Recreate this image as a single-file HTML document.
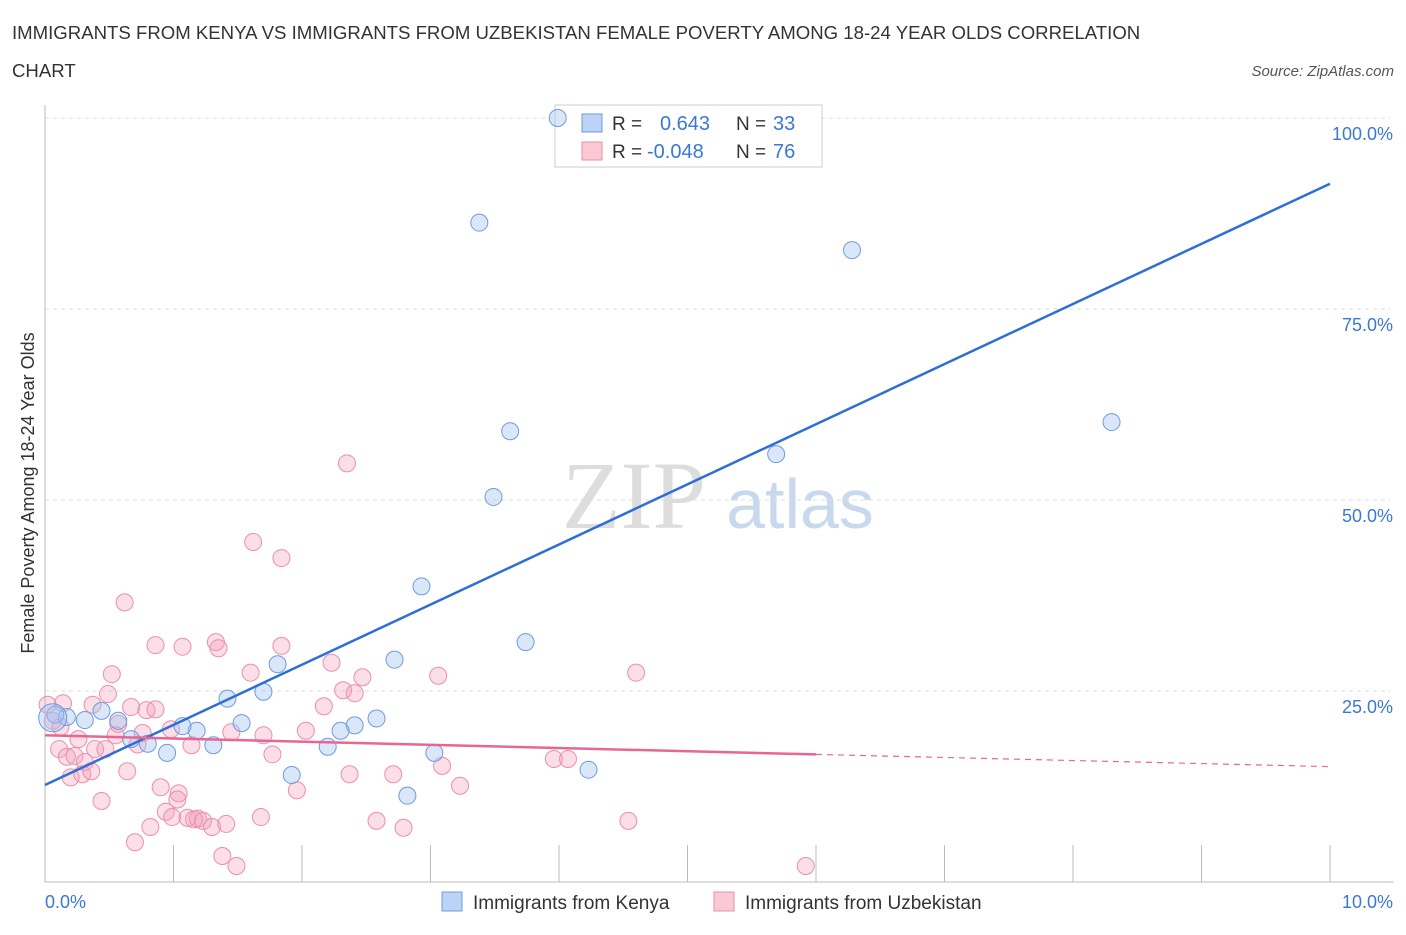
<!DOCTYPE html>
<html><head><meta charset="utf-8"><style>
body{margin:0;background:#fff;font-family:"Liberation Sans",sans-serif;}
</style></head><body>
<svg width="1406" height="930" xmlns="http://www.w3.org/2000/svg">
<text x="12" y="39" font-size="18.6" fill="#333">IMMIGRANTS FROM KENYA VS IMMIGRANTS FROM UZBEKISTAN FEMALE POVERTY AMONG 18-24 YEAR OLDS CORRELATION</text>
<text x="12" y="77" font-size="18.6" fill="#333">CHART</text>
<text x="1394" y="76" font-size="15" fill="#555" font-style="italic" text-anchor="end">Source: ZipAtlas.com</text>
<text x="634" y="528" font-size="96" fill="#ddd" font-family="Liberation Serif,serif" text-anchor="middle">ZIP</text>
<text x="800" y="528" font-size="70" fill="#c8d9ee" text-anchor="middle">atlas</text>
<g id="grid"></g><g id="axes"></g>
<g>
<rect x="555" y="105" width="267" height="62" fill="#fff" stroke="#ccc"/>
<rect x="582" y="114" width="20" height="18" fill="#bcd3f5" stroke="#6f9be0"/>
<rect x="582" y="142" width="20" height="18" fill="#f9c9d6" stroke="#eb8fab"/>
<text x="612" y="130" font-size="19" fill="#333">R = </text><text x="660" y="130" font-size="20" fill="#3a78d4">0.643</text>
<text x="736" y="130" font-size="19" fill="#333">N = </text><text x="773" y="130" font-size="20" fill="#3a78d4">33</text>
<text x="612" y="158" font-size="19" fill="#333">R = </text><text x="647" y="158" font-size="20" fill="#3a78d4">-0.048</text>
<text x="736" y="158" font-size="19" fill="#333">N = </text><text x="773" y="158" font-size="20" fill="#3a78d4">76</text>
</g>
<g id="marks"></g><g id="lines"></g>
<text transform="translate(34,493) rotate(-90)" font-size="18" fill="#333" text-anchor="middle">Female Poverty Among 18-24 Year Olds</text>
<text x="45" y="908" font-size="18" fill="#3a78d4">0.0%</text>
<text x="1393" y="908" font-size="18" fill="#3a78d4" text-anchor="end">10.0%</text>
<g><rect x="442" y="892" width="20" height="19" fill="#bcd3f5" stroke="#6f9be0"/><text x="473" y="909" font-size="19" fill="#333">Immigrants from Kenya</text></g>
<g><rect x="714" y="892" width="20" height="19" fill="#f9c9d6" stroke="#eb8fab"/><text x="745" y="909" font-size="19" fill="#333">Immigrants from Uzbekistan</text></g>
</svg>
<script>
const yTicks=[25,50,75,100];
const yTickLabels=["25.0%","50.0%","75.0%","100.0%"];
const kenyaX=[3.99,3.38,6.28,8.30,3.62,5.69,3.49,2.93,3.74,2.72,1.81,1.70,1.42,2.58,2.41,2.30,1.53,1.18,1.07,1.31,0.95,0.80,0.67,0.57,0.44,0.31,0.17,0.08,2.20,3.03,1.92,2.82,4.23];
const kenyaY=[100.0,86.3,82.7,60.2,59.0,56.0,50.4,38.7,31.4,29.1,28.5,24.9,24.0,21.4,20.5,19.8,20.8,19.8,20.4,17.9,16.9,18.1,18.7,21.1,22.4,21.2,21.6,21.9,17.7,16.9,14.0,11.3,14.7];
const uzX=[0.62,0.86,1.07,1.33,1.35,1.84,0.52,1.60,2.23,2.47,3.06,0.49,2.32,2.41,0.14,0.37,0.67,0.79,0.86,2.17,0.06,0.57,0.98,0.76,0.55,1.45,1.70,2.03,0.26,0.11,0.39,0.47,0.72,1.14,1.77,0.17,0.23,0.31,0.20,0.29,0.36,0.64,2.37,2.71,3.09,3.23,0.44,0.90,1.04,1.03,1.96,0.94,0.99,1.11,1.19,1.16,1.23,1.30,1.41,1.68,0.82,2.58,2.79,0.70,1.38,1.49,2.35,1.62,1.84,3.96,4.07,4.60,4.54,5.92,0.02,0.12];
const uzY=[36.6,31.0,30.8,31.4,30.6,30.9,27.2,27.4,28.7,26.8,27.0,24.6,25.1,24.7,23.4,23.2,22.9,22.5,22.6,23.0,21.1,20.7,20.0,19.5,19.2,19.6,19.2,19.8,18.7,17.4,17.4,17.4,18.0,17.9,16.7,16.4,16.5,15.7,13.7,14.1,14.5,14.5,14.1,14.1,15.2,12.6,10.6,12.4,11.6,10.8,12.0,9.2,8.5,8.4,8.3,8.2,8.0,7.2,7.6,8.5,7.2,8.0,7.1,5.2,3.4,2.1,54.8,44.5,42.4,16.1,16.1,27.4,8.0,2.1,23.2,20.3];
const X0=45,X1=1330,YB=882,YT=118;
const xs=v=>X0+v/10*(X1-X0);
const ys=v=>YB-v/100*(YB-YT);
const NS="http://www.w3.org/2000/svg";
function mk(p,t,a){const e=document.createElementNS(NS,t);for(const k in a)e.setAttribute(k,a[k]);document.getElementById(p).appendChild(e);return e;}
yTicks.forEach((t,i)=>{
const g=mk('grid','line',{x1:X0,x2:X1+60,y1:ys(t),y2:ys(t),stroke:'#ddd','stroke-dasharray':'4,4'});


const l=mk('grid','text',{x:1393,y:ys(t)+22,'font-size':18,fill:'#3a78d4','text-anchor':'end'});
l.textContent=yTickLabels[i];


});
const ax=mk('axes','line',{x1:X0,x2:X0,y1:105,y2:YB,stroke:'#bbb'});


const bx=mk('axes','line',{x1:X0,x2:X1+64,y1:YB,y2:YB,stroke:'#bbb'});


for(let i=1;i<=10;i++){const t=mk('axes','line',{x1:xs(i),x2:xs(i),y1:845,y2:YB,stroke:'#bbb'});

}
uzX.forEach((v,i)=>{const c=mk('marks','circle',{cx:xs(v),cy:ys(uzY[i]),r:8.5,fill:'rgba(244,160,186,0.35)',stroke:'#eb8fab','stroke-width':1});

});
kenyaX.forEach((v,i)=>{const c=mk('marks','circle',{cx:xs(v),cy:ys(kenyaY[i]),r:8.5,fill:'rgba(160,195,240,0.4)',stroke:'#6f9be0','stroke-width':1});

});
const big=mk('marks','circle',{cx:xs(0.06),cy:ys(21.5),r:14,fill:'rgba(160,195,240,0.4)',stroke:'#6f9be0'});


const bl=mk('lines','line',{x1:xs(0),y1:ys(12.7),x2:xs(10),y2:ys(91.4),stroke:'#2e6fd6','stroke-width':2.5});


const pl=mk('lines','line',{x1:xs(0),y1:ys(19.2),x2:xs(6.0),y2:ys(16.7),stroke:'#e86690','stroke-width':2.5});


const pd=mk('lines','line',{x1:xs(6.0),y1:ys(16.7),x2:xs(10),y2:ys(15.1),stroke:'#e86690','stroke-width':1.2,'stroke-dasharray':'6,5'});


</script>
</body></html>
